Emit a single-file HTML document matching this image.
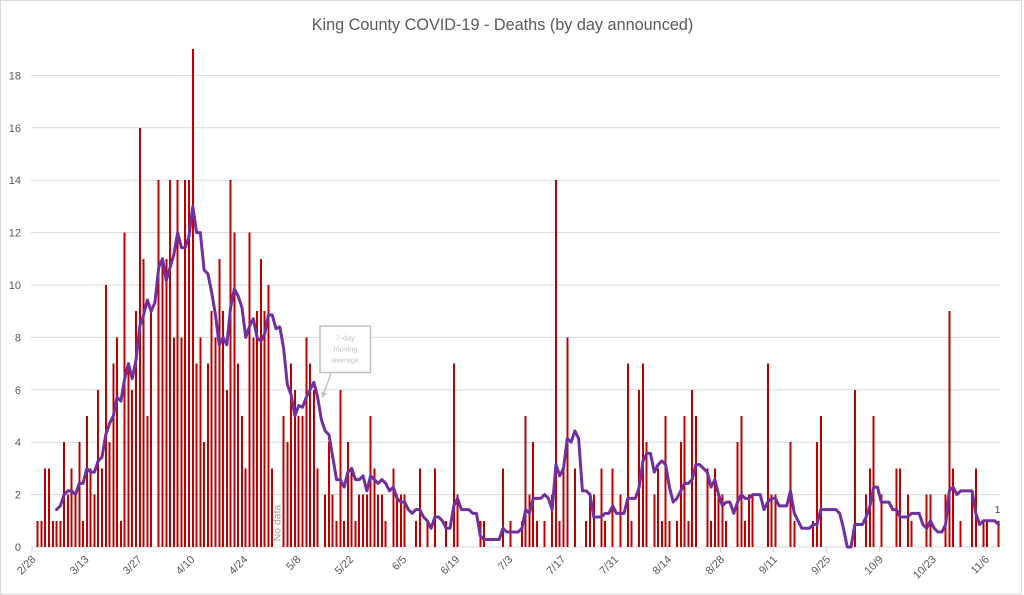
<!DOCTYPE html>
<html>
<head>
<meta charset="utf-8">
<style>
html,body{margin:0;padding:0;background:#fff;}
svg{display:block;}
</style>
</head>
<body>
<svg width="1024" height="595" viewBox="0 0 1024 595" xmlns="http://www.w3.org/2000/svg" font-family="'Liberation Sans', Arial, sans-serif">
<rect x="0" y="0" width="1024" height="595" fill="#ffffff"/>
<rect x="0.5" y="0.5" width="1021" height="593.5" fill="none" stroke="#d9d9d9" stroke-width="1"/>

<!-- title -->
<text x="311.7" y="30" font-size="16.3" fill="#595959" textLength="381.6" lengthAdjust="spacingAndGlyphs">King County COVID-19 - Deaths (by day announced)</text>

<!-- gridlines -->
<g stroke="#d9d9d9" stroke-width="1">
<line x1="31" y1="75.4" x2="1000.5" y2="75.4"/>
<line x1="31" y1="127.8" x2="1000.5" y2="127.8"/>
<line x1="31" y1="180.2" x2="1000.5" y2="180.2"/>
<line x1="31" y1="232.6" x2="1000.5" y2="232.6"/>
<line x1="31" y1="285" x2="1000.5" y2="285"/>
<line x1="31" y1="337.4" x2="1000.5" y2="337.4"/>
<line x1="31" y1="389.8" x2="1000.5" y2="389.8"/>
<line x1="31" y1="442.2" x2="1000.5" y2="442.2"/>
<line x1="31" y1="494.6" x2="1000.5" y2="494.6"/>
<line x1="31" y1="547" x2="1000.5" y2="547"/>
</g>

<!-- y labels -->
<g font-size="11" fill="#595959" text-anchor="end">
<text x="21" y="551">0</text>
<text x="21" y="498.6">2</text>
<text x="21" y="446.2">4</text>
<text x="21" y="393.8">6</text>
<text x="21" y="341.4">8</text>
<text x="21" y="289">10</text>
<text x="21" y="236.6">12</text>
<text x="21" y="184.2">14</text>
<text x="21" y="131.8">16</text>
<text x="21" y="79.4">18</text>
</g>

<!-- x ticks -->
<g stroke="#d9d9d9" stroke-width="1">
<line x1="32" y1="547" x2="32" y2="552"/>
<line x1="84.96" y1="547" x2="84.96" y2="552"/>
<line x1="137.92" y1="547" x2="137.92" y2="552"/>
<line x1="190.89" y1="547" x2="190.89" y2="552"/>
<line x1="243.85" y1="547" x2="243.85" y2="552"/>
<line x1="296.81" y1="547" x2="296.81" y2="552"/>
<line x1="349.77" y1="547" x2="349.77" y2="552"/>
<line x1="402.73" y1="547" x2="402.73" y2="552"/>
<line x1="455.7" y1="547" x2="455.7" y2="552"/>
<line x1="508.66" y1="547" x2="508.66" y2="552"/>
<line x1="561.62" y1="547" x2="561.62" y2="552"/>
<line x1="614.58" y1="547" x2="614.58" y2="552"/>
<line x1="667.54" y1="547" x2="667.54" y2="552"/>
<line x1="720.51" y1="547" x2="720.51" y2="552"/>
<line x1="773.47" y1="547" x2="773.47" y2="552"/>
<line x1="826.43" y1="547" x2="826.43" y2="552"/>
<line x1="879.39" y1="547" x2="879.39" y2="552"/>
<line x1="932.35" y1="547" x2="932.35" y2="552"/>
<line x1="985.32" y1="547" x2="985.32" y2="552"/>
</g>

<!-- x labels -->
<g font-size="11" fill="#595959" text-anchor="end">
<text x="36.5" y="560" transform="rotate(-45 36.5 560)">2/28</text>
<text x="89.46" y="560" transform="rotate(-45 89.46 560)">3/13</text>
<text x="142.42" y="560" transform="rotate(-45 142.42 560)">3/27</text>
<text x="195.39" y="560" transform="rotate(-45 195.39 560)">4/10</text>
<text x="248.35" y="560" transform="rotate(-45 248.35 560)">4/24</text>
<text x="301.31" y="560" transform="rotate(-45 301.31 560)">5/8</text>
<text x="354.27" y="560" transform="rotate(-45 354.27 560)">5/22</text>
<text x="407.23" y="560" transform="rotate(-45 407.23 560)">6/5</text>
<text x="460.2" y="560" transform="rotate(-45 460.2 560)">6/19</text>
<text x="513.16" y="560" transform="rotate(-45 513.16 560)">7/3</text>
<text x="566.12" y="560" transform="rotate(-45 566.12 560)">7/17</text>
<text x="619.08" y="560" transform="rotate(-45 619.08 560)">7/31</text>
<text x="672.04" y="560" transform="rotate(-45 672.04 560)">8/14</text>
<text x="725.01" y="560" transform="rotate(-45 725.01 560)">8/28</text>
<text x="777.97" y="560" transform="rotate(-45 777.97 560)">9/11</text>
<text x="830.93" y="560" transform="rotate(-45 830.93 560)">9/25</text>
<text x="883.89" y="560" transform="rotate(-45 883.89 560)">10/9</text>
<text x="936.85" y="560" transform="rotate(-45 936.85 560)">10/23</text>
<text x="989.82" y="560" transform="rotate(-45 989.82 560)">11/6</text>
</g>

<!-- bars -->
<g transform="matrix(1 0 0 -26.2 0 547)">
<path fill="#c00000" shape-rendering="crispEdges" d="M36.67 0
v1h2v-1zm3.783 0 v1h2v-1zm3.783 0 v3h2v-3zm3.783 0 v3h2v-3zm3.783 0 v1h2v-1zm3.783 0
v1h2v-1zm3.783 0 v1h2v-1zm3.783 0 v4h2v-4zm3.783 0 v2h2v-2zm3.783 0 v3h2v-3zm3.783 0
v2h2v-2zm3.783 0 v4h2v-4zm3.783 0 v1h2v-1zm3.783 0 v5h2v-5zm3.783 0 v3h2v-3zm3.783 0
v2h2v-2zm3.783 0 v6h2v-6zm3.783 0 v3h2v-3zm3.783 0 v10h2v-10zm3.783 0 v4h2v-4zm3.783 0
v7h2v-7zm3.783 0 v8h2v-8zm3.783 0 v1h2v-1zm3.783 0 v12h2v-12zm3.783 0 v7h2v-7zm3.783 0
v6h2v-6zm3.783 0 v9h2v-9zm3.783 0 v16h2v-16zm3.783 0 v11h2v-11zm3.783 0 v5h2v-5zm3.783 0
v9h2v-9zm3.783 0 m3.783 0 v14h2v-14zm3.783 0 v11h2v-11zm3.783 0 v11h2v-11zm3.783 0
v14h2v-14zm3.783 0 v8h2v-8zm3.783 0 v14h2v-14zm3.783 0 v8h2v-8zm3.783 0 v14h2v-14zm3.783 0
v14h2v-14zm3.783 0 v19h2v-19zm3.783 0 v7h2v-7zm3.783 0 v8h2v-8zm3.783 0 v4h2v-4zm3.783 0
v7h2v-7zm3.783 0 v9h2v-9zm3.783 0 v8h2v-8zm3.783 0 v11h2v-11zm3.783 0 v9h2v-9zm3.783 0
v6h2v-6zm3.783 0 v14h2v-14zm3.783 0 v12h2v-12zm3.783 0 v7h2v-7zm3.783 0 v5h2v-5zm3.783 0
v3h2v-3zm3.783 0 v12h2v-12zm3.783 0 v8h2v-8zm3.783 0 v9h2v-9zm3.783 0 v11h2v-11zm3.783 0
v9h2v-9zm3.783 0 v10h2v-10zm3.783 0 v3h2v-3zm3.783 0 m3.783 0 m3.783 0
v5h2v-5zm3.783 0 v4h2v-4zm3.783 0 v7h2v-7zm3.783 0 v6h2v-6zm3.783 0 v5h2v-5zm3.783 0
v5h2v-5zm3.783 0 v8h2v-8zm3.783 0 v7h2v-7zm3.783 0 v6h2v-6zm3.783 0 v3h2v-3zm3.783 0
m3.783 0 v2h2v-2zm3.783 0 v4h2v-4zm3.783 0 v2h2v-2zm3.783 0 v1h2v-1zm3.783 0
v6h2v-6zm3.783 0 v1h2v-1zm3.783 0 v4h2v-4zm3.783 0 v3h2v-3zm3.783 0 v1h2v-1zm3.783 0
v2h2v-2zm3.783 0 v2h2v-2zm3.783 0 v2h2v-2zm3.783 0 v5h2v-5zm3.783 0 v3h2v-3zm3.783 0
v2h2v-2zm3.783 0 v2h2v-2zm3.783 0 v1h2v-1zm3.783 0 m3.783 0 v3h2v-3zm3.783 0
v2h2v-2zm3.783 0 v2h2v-2zm3.783 0 v2h2v-2zm3.783 0 m3.783 0 m3.783 0
v1h2v-1zm3.783 0 v3h2v-3zm3.783 0 m3.783 0 v1h2v-1zm3.783 0 m3.783 0
v3h2v-3zm3.783 0 m3.783 0 m3.783 0 v1h2v-1zm3.783 0 m3.783 0
v7h2v-7zm3.783 0 v2h2v-2zm3.783 0 m3.783 0 m3.783 0 m3.783 0 m3.783 0 m3.783 0
v1h2v-1zm3.783 0 v1h2v-1zm3.783 0 m3.783 0 m3.783 0 m3.783 0 m3.783 0
v3h2v-3zm3.783 0 m3.783 0 v1h2v-1zm3.783 0 m3.783 0 m3.783 0
v1h2v-1zm3.783 0 v5h2v-5zm3.783 0 v2h2v-2zm3.783 0 v4h2v-4zm3.783 0 v1h2v-1zm3.783 0
m3.783 0 v1h2v-1zm3.783 0 m3.783 0 v2h2v-2zm3.783 0 v14h2v-14zm3.783 0
v1h2v-1zm3.783 0 v3h2v-3zm3.783 0 v8h2v-8zm3.783 0 m3.783 0 v3h2v-3zm3.783 0
m3.783 0 m3.783 0 v1h2v-1zm3.783 0 v2h2v-2zm3.783 0 v2h2v-2zm3.783 0 m3.783 0
v3h2v-3zm3.783 0 v1h2v-1zm3.783 0 m3.783 0 v3h2v-3zm3.783 0 m3.783 0
v2h2v-2zm3.783 0 m3.783 0 v7h2v-7zm3.783 0 v1h2v-1zm3.783 0 m3.783 0
v6h2v-6zm3.783 0 v7h2v-7zm3.783 0 v4h2v-4zm3.783 0 m3.783 0 v2h2v-2zm3.783 0
v3h2v-3zm3.783 0 v1h2v-1zm3.783 0 v5h2v-5zm3.783 0 v1h2v-1zm3.783 0 m3.783 0
v1h2v-1zm3.783 0 v4h2v-4zm3.783 0 v5h2v-5zm3.783 0 v1h2v-1zm3.783 0 v6h2v-6zm3.783 0
v5h2v-5zm3.783 0 m3.783 0 m3.783 0 v3h2v-3zm3.783 0 v1h2v-1zm3.783 0
v3h2v-3zm3.783 0 v2h2v-2zm3.783 0 v2h2v-2zm3.783 0 v1h2v-1zm3.783 0 m3.783 0 m3.783 0
v4h2v-4zm3.783 0 v5h2v-5zm3.783 0 v1h2v-1zm3.783 0 v2h2v-2zm3.783 0 v2h2v-2zm3.783 0
m3.783 0 m3.783 0 m3.783 0 v7h2v-7zm3.783 0 v2h2v-2zm3.783 0 v2h2v-2zm3.783 0
m3.783 0 m3.783 0 m3.783 0 v4h2v-4zm3.783 0 v1h2v-1zm3.783 0
m3.783 0 m3.783 0 m3.783 0 m3.783 0 v1h2v-1zm3.783 0 v4h2v-4zm3.783 0 v5h2v-5zm3.783 0
m3.783 0 m3.783 0 m3.783 0 m3.783 0 m3.783 0 m3.783 0 m3.783 0 m3.783 0
v6h2v-6zm3.783 0 m3.783 0 m3.783 0 v2h2v-2zm3.783 0 v3h2v-3zm3.783 0 v5h2v-5zm3.783 0
m3.783 0 v2h2v-2zm3.783 0 m3.783 0 m3.783 0 m3.783 0 v3h2v-3zm3.783 0 v3h2v-3zm3.783 0
m3.783 0 v2h2v-2zm3.783 0 v1h2v-1zm3.783 0 m3.783 0 m3.783 0 m3.783 0
v2h2v-2zm3.783 0 v2h2v-2zm3.783 0 m3.783 0 m3.783 0 m3.783 0
v2h2v-2zm3.783 0 v9h2v-9zm3.783 0 v3h2v-3zm3.783 0 m3.783 0 v1h2v-1zm3.783 0
m3.783 0 m3.783 0 v2h2v-2zm3.783 0 v3h2v-3zm3.783 0 m3.783 0 v1h2v-1zm3.783 0
v1h2v-1zm3.783 0 m3.783 0 m3.783 0 v1h2v-1zm3.783 0"/>
</g>

<!-- annotation box -->
<rect x="320" y="326" width="50.5" height="46.5" fill="#ffffff" stroke="#bfbfbf" stroke-width="1.5"/>
<g font-size="7.5" fill="#bfbfbf" text-anchor="middle">
<text x="345.5" y="340.5">7-day</text>
<text x="345.5" y="351.5">moving</text>
<text x="345.5" y="362.5">average</text>
</g>
<line x1="331" y1="373.5" x2="324.03" y2="392.35" stroke="#bfbfbf" stroke-width="1.5"/>
<polygon points="322,398 326.85,393.37 321.21,391.33" fill="#bfbfbf"/>

<!-- No data label -->
<text x="277" y="526.5" font-size="10.5" fill="#a0a0a0" text-anchor="middle" transform="rotate(-90 277 523)">No data</text>

<!-- moving average line -->
<g transform="matrix(1 0 0 -3.742857 0 547)">
<path fill="none" stroke="#7030a0" stroke-width="3" stroke-linejoin="round" stroke-linecap="round" vector-effect="non-scaling-stroke" d="M56.59 10
l3.783 1 l3.783 3 l3.783 1 l3.783 0 l3.783 -1 l3.783 3 l3.783 0 l3.783 4 l3.783 -1 l3.783 0
l3.783 3 l3.783 1 l3.783 6 l3.783 3 l3.783 2 l3.783 5 l3.783 -1 l3.783 6 l3.783 4 l3.783 -4
l3.783 5 l3.783 9 l3.783 3 l3.783 4 l3.783 -3
l3.783 2.333 l3.783 9.334 l3.783 2.333 l3.783 -5.833 l3.783 3.5 l3.783 3.5 l3.783 5.833
l3.783 -4 l3.783 0 l3.783 3 l3.783 8 l3.783 -7 l3.783 0 l3.783 -10 l3.783 -1 l3.783 -5 l3.783 -6
l3.783 -8 l3.783 2 l3.783 -2 l3.783 10 l3.783 5 l3.783 -2 l3.783 -3 l3.783 -8 l3.783 3 l3.783 2
l3.783 -5 l3.783 -1 l3.783 2 l3.783 5 l3.783 0
l3.783 -3.667 l3.783 0.467 l3.783 -5.6 l3.783 -9.8 l3.783 -2.8 l3.783 -5.6 l3.783 2.8 l3.783 -0.466 l3.783 2.666
l3.783 2 l3.783 2 l3.783 -4 l3.783 -6 l3.783 -3 l3.783 -1 l3.783 -6 l3.783 -6 l3.783 0 l3.783 -2
l3.783 4 l3.783 1 l3.783 -3 l3.783 0 l3.783 1 l3.783 -4 l3.783 4 l3.783 -1 l3.783 -1 l3.783 1
l3.783 -1 l3.783 -2 l3.783 1 l3.783 -3 l3.783 -1 l3.783 0 l3.783 -2 l3.783 -1 l3.783 1 l3.783 0
l3.783 -2 l3.783 -1 l3.783 -2 l3.783 3 l3.783 0 l3.783 -1 l3.783 -2 l3.783 0 l3.783 6 l3.783 2
l3.783 -3 l3.783 0 l3.783 0 l3.783 -1 l3.783 0 l3.783 -6 l3.783 -1 l3.783 0 l3.783 0 l3.783 0
l3.783 0 l3.783 3 l3.783 -1 l3.783 0 l3.783 0 l3.783 0 l3.783 1 l3.783 5 l3.783 -1 l3.783 4
l3.783 0 l3.783 0 l3.783 1 l3.783 -1 l3.783 -3 l3.783 12 l3.783 -3 l3.783 2 l3.783 8 l3.783 -1
l3.783 3 l3.783 -2 l3.783 -14 l3.783 0 l3.783 -1 l3.783 -6 l3.783 0 l3.783 0 l3.783 1 l3.783 0
l3.783 2 l3.783 -2 l3.783 0 l3.783 0 l3.783 4 l3.783 0 l3.783 0 l3.783 3 l3.783 7 l3.783 2
l3.783 0 l3.783 -5 l3.783 2 l3.783 1 l3.783 -1 l3.783 -6 l3.783 -4 l3.783 1 l3.783 2 l3.783 2
l3.783 0 l3.783 1 l3.783 4 l3.783 0 l3.783 -1 l3.783 -1 l3.783 -4 l3.783 2 l3.783 -4 l3.783 -3
l3.783 1 l3.783 0 l3.783 -3 l3.783 3 l3.783 2 l3.783 -1 l3.783 0 l3.783 1 l3.783 0 l3.783 0
l3.783 -4 l3.783 2 l3.783 1 l3.783 0 l3.783 -2 l3.783 0 l3.783 0 l3.783 4 l3.783 -6 l3.783 -2
l3.783 -2 l3.783 0 l3.783 0 l3.783 1 l3.783 0 l3.783 4 l3.783 0 l3.783 0 l3.783 0 l3.783 0
l3.783 -1 l3.783 -4 l3.783 -5 l3.783 0 l3.783 6 l3.783 0 l3.783 0 l3.783 2 l3.783 3 l3.783 5
l3.783 0 l3.783 -4 l3.783 0 l3.783 0 l3.783 -2 l3.783 0 l3.783 -2 l3.783 0 l3.783 0 l3.783 1
l3.783 0 l3.783 0 l3.783 -3 l3.783 -1 l3.783 2 l3.783 -2 l3.783 -1 l3.783 0 l3.783 2 l3.783 9
l3.783 1 l3.783 -2 l3.783 1 l3.783 0 l3.783 0 l3.783 0 l3.783 -6 l3.783 -3 l3.783 1 l3.783 0
l3.783 0 l3.783 0 l3.783 -1"/>
</g>

<!-- data label -->
<text x="997.5" y="513" font-size="10" fill="#404040" text-anchor="middle">1</text>
</svg>
</body>
</html>
